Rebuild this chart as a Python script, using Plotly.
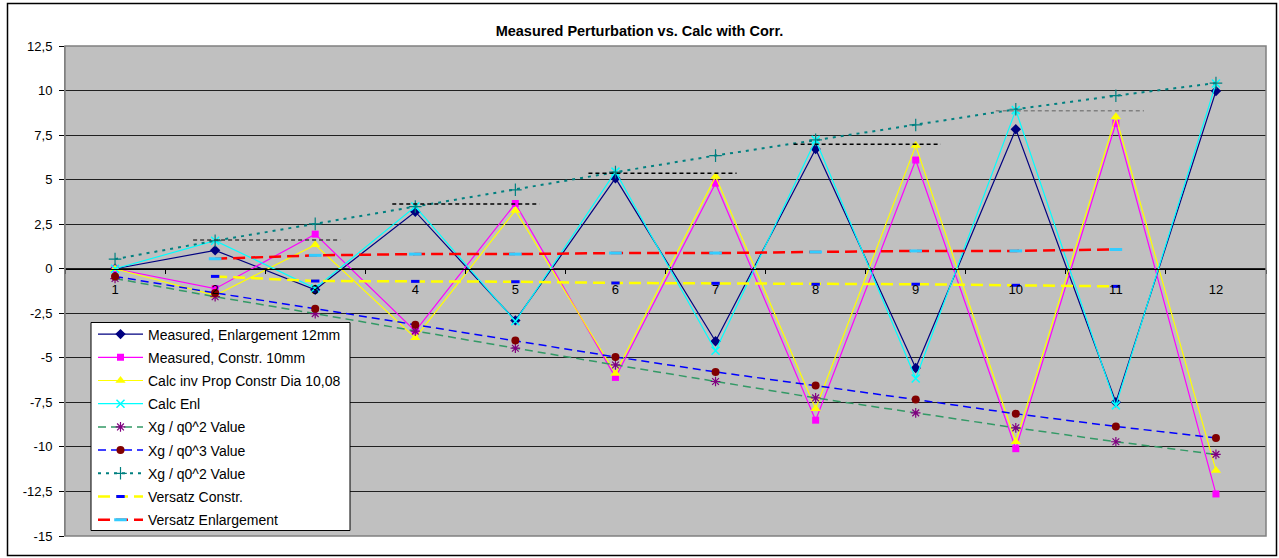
import plotly.graph_objects as go

categories = [1, 2, 3, 4, 5, 6, 7, 8, 9, 10, 11, 12]

meas_enl = [0, 1.03, -1.18, 3.2, -2.9, 5.08, -4.07, 6.72, -5.57, 7.83, -7.49, 9.97]
meas_constr = [0, -1.12, 1.94, -3.5, 3.66, -6.1, 4.8, -8.5, 6.1, -10.1, 8.16, -12.64]
calc_constr = [0, -1.5, 1.34, -3.88, 3.27, -5.88, 5.17, -7.86, 6.91, -9.71, 8.53, -11.32]
calc_enl = [0, 1.57, -1.1, 3.49, -2.95, 5.45, -4.6, 7.23, -6.16, 8.9, -7.67, 10.4]
xg_q2_neg = [-0.55, -1.57, -2.52, -3.5, -4.46, -5.4, -6.33, -7.25, -8.09, -8.93, -9.71, -10.42]
xg_q3 = [-0.43, -1.36, -2.24, -3.14, -4.03, -4.95, -5.79, -6.55, -7.34, -8.14, -8.85, -9.5]
xg_q2_pos = [0.54, 1.57, 2.52, 3.49, 4.43, 5.42, 6.35, 7.23, 8.07, 8.95, 9.71, 10.42]
versatz_constr = [None, -0.43, -0.69, -0.71, -0.73, -0.8, -0.82, -0.87, -0.87, -0.93, -0.99, None]
versatz_enl = [None, 0.56, 0.75, 0.82, 0.82, 0.88, 0.88, 0.94, 1.0, 1.0, 1.08, None]

# short horizontal reference levels (no legend entry)
ref_levels = [1.61, 3.63, 5.36, 6.98, 8.87]
ref_start = [1.78, 3.77, 5.73, 7.78, 9.8]
ref_end = [3.25, 5.24, 7.21, 9.25, 11.28]
ref_colors = ["#404040", "black", "black", "black", "#808080"]

y_ticks = [-15, -12.5, -10, -7.5, -5, -2.5, 0, 2.5, 5, 7.5, 10, 12.5]
y_labels = ["-15", "-12,5", "-10", "-7,5", "-5", "-2,5", "0", "2,5", "5", "7,5", "10", "12,5"]

FONT = "Liberation Sans, Arial, sans-serif"

fig = go.Figure()

def add(name, y, color, width, dash, symbol, msize, mcolor, mline=None, group=None):
    marker = dict(symbol=symbol, size=msize, color=mcolor)
    if mline is not None:
        marker["line"] = dict(color=mcolor, width=mline)
    fig.add_trace(go.Scatter(
        x=categories, y=y, name=name, mode="lines+markers",
        line=dict(color=color, width=width, dash=dash),
        marker=marker, legendgroup=group or name, connectgaps=False,
    ))

add("Measured, Enlargement 12mm", meas_enl, "#000080", 1.2, "solid", "diamond", 8, "#000080", group="g1")
add("Measured, Constr. 10mm", meas_constr, "#FF00FF", 1.2, "solid", "square", 7, "#FF00FF", group="g2")
add("Calc inv Prop Constr Dia 10,08", calc_constr, "#FFFF00", 1.2, "solid", "triangle-up", 9, "#FFFF00", group="g3")
add("Calc Enl", calc_enl, "#00FFFF", 1.2, "solid", "x-thin-open", 8, "#00FFFF", mline=1.5, group="g4")
add("Xg / q0^2 Value", xg_q2_neg, "#339966", 1.5, "8px,5px", "asterisk-open", 8, "#800080", mline=1.2, group="g5")
add("Xg / q0^3 Value", xg_q3, "#0000FF", 1.5, "8px,5px", "circle", 8, "#800000", group="g6")
add("Xg / q0^2 Value", xg_q2_pos, "#008080", 2, "3px,5px", "cross-thin-open", 9, "#008080", mline=1.2, group="g7")
add("Versatz Constr.", versatz_constr, "#FFFF00", 2.5, "12px,6px", "line-ew-open", 6, "#0000FF", mline=3, group="g8")
add("Versatz Enlargement", versatz_enl, "#FF0000", 2.5, "12px,6px", "line-ew-open", 9, "#33CCFF", mline=3, group="g9")

for lvl, x0, x1, c in zip(ref_levels, ref_start, ref_end, ref_colors):
    fig.add_trace(go.Scatter(
        x=[x0, x1], y=[lvl, lvl], mode="lines", showlegend=False, hoverinfo="skip",
        line=dict(color=c, width=1.5, dash="4px,3px"),
    ))

W, H = 1279, 558
ml, mr, mt, mb = 65, 13, 46, 22
pw, ph = W - ml - mr, H - mt - mb

def px_x(x):
    return (x - ml) / pw

def px_y(y):
    return (H - mb - y) / ph

fig.update_layout(
    width=W, height=H,
    margin=dict(l=ml, r=mr, t=mt, b=mb, pad=0),
    paper_bgcolor="white",
    plot_bgcolor="#C0C0C0",
    font=dict(family=FONT, size=13, color="black"),
    title=dict(text="<b>Measured Perturbation vs. Calc with Corr.</b>", x=0.5, xref="container",
               xanchor="center", y=1 - 31 / H, yref="container", yanchor="middle",
               font=dict(family=FONT, size=14.5, color="black")),
    showlegend=True,
    legend=dict(x=px_x(93), y=px_y(318.5), xanchor="left", yanchor="top",
                bgcolor="rgba(0,0,0,0)", borderwidth=0,
                font=dict(family=FONT, size=14, color="black"),
                tracegroupgap=2, itemwidth=45),
    xaxis=dict(range=[0.5, 12.5], tickmode="array", tickvals=categories,
               ticktext=[str(c) for c in categories], ticks="", showgrid=False,
               zeroline=False, showline=True, linecolor="black", linewidth=1,
               anchor="free", position=15 / 27.5,
               tickfont=dict(family=FONT, size=13),
               minor=dict(tick0=0.5, dtick=1, ticks="outside", ticklen=4, tickcolor="black", showgrid=False),
               ticklabelstandoff=9),
    yaxis=dict(range=[-15, 12.5], tickmode="array", tickvals=y_ticks, ticktext=y_labels,
               ticks="outside", ticklen=5, tickcolor="black", showgrid=True,
               gridcolor="#202020", gridwidth=1, zeroline=False, showline=True,
               linecolor="#808080", linewidth=1, tickfont=dict(family=FONT, size=13),
               ticklabelstandoff=4),
    shapes=[
        dict(type="rect", xref="paper", yref="paper", x0=px_x(91), x1=px_x(350),
             y0=px_y(530.5), y1=px_y(322.5), fillcolor="white",
             line=dict(color="black", width=1), layer="above"),
        dict(type="rect", xref="paper", yref="paper", x0=0, x1=1, y0=0, y1=1,
             line=dict(color="#808080", width=1.5), layer="above"),
        dict(type="rect", xref="paper", yref="paper", x0=px_x(7.5), x1=px_x(1276.5),
             y0=px_y(555.5), y1=px_y(3.5), line=dict(color="black", width=1.5), layer="above"),
    ],
)

fig.write_html("out.html", config={"displayModeBar": False},
               post_script="document.body.style.margin='0';document.body.style.padding='0';")
